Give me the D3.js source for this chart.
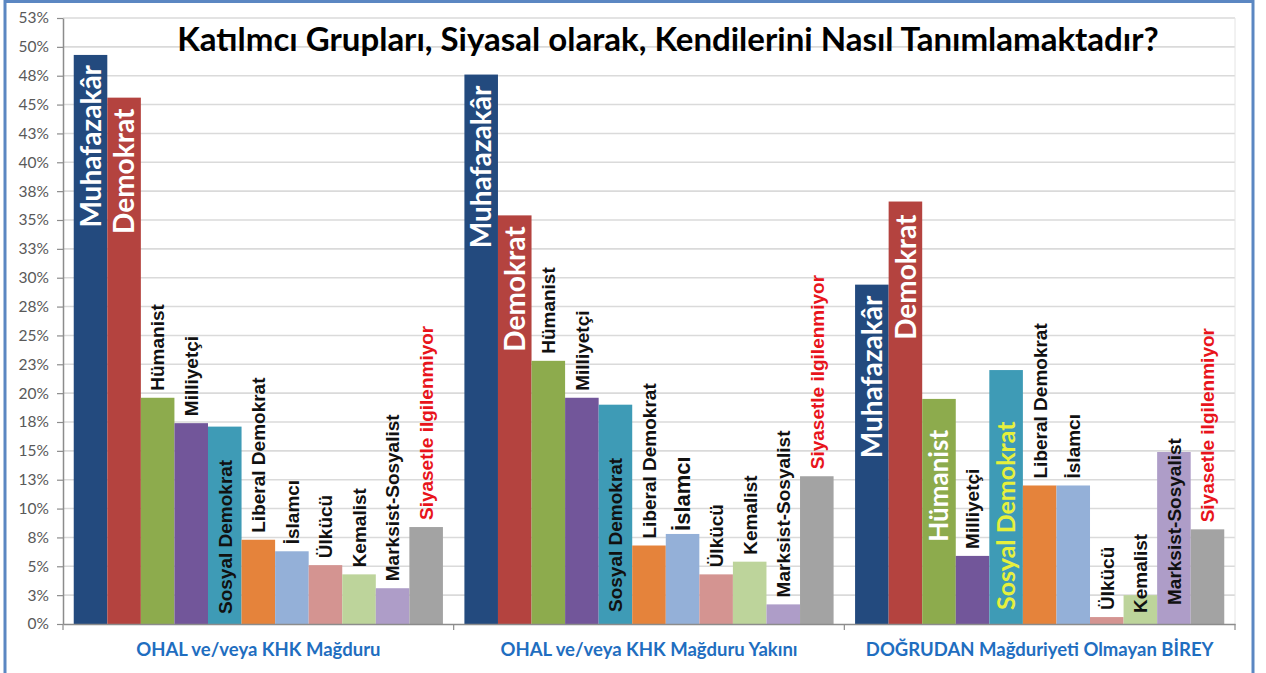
<!DOCTYPE html>
<html>
<head>
<meta charset="utf-8">
<script src="https://cdn.jsdelivr.net/npm/d3@7"></script>
<style>
  html, body { margin: 0; padding: 0; background: #ffffff; }
  svg { display: block; }
</style>
</head>
<body>
<svg id="chart" width="1266" height="673"></svg>
<script>
// ---- DATA ----
const title = "Katılmcı Grupları, Siyasal olarak, Kendilerini Nasıl Tanımlamaktadır?";
const categories = ["OHAL ve/veya KHK Mağduru", "OHAL ve/veya KHK Mağduru Yakını", "DOĞRUDAN Mağduriyeti Olmayan BİREY"];
const seriesNames = ["Muhafazakâr", "Demokrat", "Hümanist", "Milliyetçi", "Sosyal Demokrat", "Liberal Demokrat", "İslamcı", "Ülkücü", "Kemalist", "Marksist-Sosyalist", "Siyasetle ilgilenmiyor"];
const muhafazakar       = [49.3, 47.6, 29.4];
const demokrat          = [45.6, 35.4, 36.6];
const humanist          = [19.6, 22.8, 19.5];
const milliyetci        = [17.4, 19.6, 5.9];
const sosyalDemokrat    = [17.1, 19.0, 22.0];
const liberalDemokrat   = [7.3, 6.8, 12.0];
const islamci           = [6.3, 7.8, 12.0];
const ulkucu            = [5.1, 4.3, 0.6];
const kemalist          = [4.3, 5.4, 2.5];
const marksistSosyalist = [3.1, 1.7, 14.9];
const siyasetle         = [8.4, 12.8, 8.2];
const yTickValues = [0, 2.5, 5, 7.5, 10, 12.5, 15, 17.5, 20, 22.5, 25, 27.5, 30, 32.5, 35, 37.5, 40, 42.5, 45, 47.5, 50, 52.5];
const yTickLabels = ["0%", "3%", "5%", "8%", "10%", "13%", "15%", "18%", "20%", "23%", "25%", "28%", "30%", "33%", "35%", "38%", "40%", "43%", "45%", "48%", "50%", "53%"];

const seriesValues = [muhafazakar, demokrat, humanist, milliyetci, sosyalDemokrat, liberalDemokrat, islamci, ulkucu, kemalist, marksistSosyalist, siyasetle];

// ---- STYLE ----
const colors = ["#234A7E", "#B4433F", "#8DAB4D", "#72569A", "#3E9BB6", "#E5833B", "#94B0D8", "#D49491", "#BDD49B", "#AE9DC8", "#A3A3A3"];
// label placement per group: [mode, color, size, offset]
const A = (c) => ["above", c || "#111", 19, 7];
const labelStyles = [
  [["inTop","#fff",28,10],["inTop","#fff",28,11],A(),A(),["inBottom","#111",19,10],A(),A(),A(),A(),A(),A("#E8141B")],
  [["inTop","#fff",28,11],["inTop","#fff",28,11],A(),A(),["inBottom","#111",19,12],A(),["above","#111",22,3],A(),A(),A(),A("#E8141B")],
  [["inTop","#fff",28,11],["inTop","#fff",28,13],["inTop","#fff",26,31],A(),["inBottom","#E6F03C",25,14],A(),A(),A(),["inBottom","#111",19,11],["inBottom","#111",19,19],A("#E8141B")]
];

const svg = d3.select("#chart");
const W = 1266, H = 673;
const margin = {left: 63, right: 31, top: 18, bottom: 49};
const plotW = W - margin.left - margin.right;
const plotH = H - margin.top - margin.bottom;

// frame
svg.append("rect").attr("x", 5).attr("y", 1.5).attr("width", 1248).attr("height", 690)
  .attr("fill", "#fff").attr("stroke", "#5B87C2").attr("stroke-width", 3);

const g = svg.append("g").attr("transform", `translate(${margin.left},${margin.top})`);

const y = d3.scaleLinear().domain([0, 52.5]).range([plotH, 0]);
const x0 = d3.scaleBand().domain(categories).range([0, plotW]).padding(0);
const x1 = d3.scaleBand().domain(seriesNames).range([0, x0.bandwidth()]).paddingInner(0).paddingOuter(0.32);

// gridlines
g.append("g").selectAll("line").data(yTickValues.slice(1)).join("line")
  .attr("x1", 0).attr("x2", plotW)
  .attr("y1", d => y(d)).attr("y2", d => y(d))
  .attr("stroke", "#DADADA").attr("stroke-width", 1.6);
// right border of plot area
g.append("line").attr("x1", plotW).attr("x2", plotW).attr("y1", 0).attr("y2", plotH)
  .attr("stroke", "#E4E4E4").attr("stroke-width", 1);

// y axis
const yAxis = d3.axisLeft(y).tickValues(yTickValues)
  .tickFormat((d, i) => yTickLabels[i]).tickSize(6).tickSizeOuter(0);
const ya = g.append("g").call(yAxis);
ya.select(".domain").attr("stroke", "#8C8C8C").attr("stroke-width", 1.5);
ya.selectAll(".tick line").attr("stroke", "#8C8C8C").attr("stroke-width", 1.2);
ya.selectAll(".tick text").attr("fill", "#595959").attr("font-family", "Lato, sans-serif")
  .attr("font-size", 15.5).attr("x", -14);

// bars
const groups = g.append("g").selectAll("g").data(categories).join("g")
  .attr("transform", d => `translate(${x0(d)},0)`);

groups.each(function(cat, gi) {
  const gg = d3.select(this);
  const rows = seriesNames.map((s, si) => ({s, si, v: seriesValues[si][gi], st: labelStyles[gi][si]}));
  gg.selectAll("rect").data(rows).join("rect")
    .attr("x", d => x1(d.s)).attr("width", x1.bandwidth())
    .attr("y", d => y(d.v)).attr("height", d => plotH - y(d.v))
    .attr("fill", d => colors[d.si]);
  gg.selectAll("text").data(rows).join("text")
    .attr("transform", d => {
      const cx = x1(d.s) + x1.bandwidth() / 2;
      const [mode, , , off] = d.st;
      let yy;
      if (mode === "inTop") yy = y(d.v) + off;
      else if (mode === "inBottom") yy = plotH - off;
      else yy = y(d.v) - off;
      return `translate(${cx},${yy}) rotate(-90)`;
    })
    .attr("text-anchor", d => d.st[0] === "inTop" ? "end" : "start")
    .attr("dy", "0.36em")
    .attr("fill", d => d.st[1])
    .attr("font-size", d => d.st[2])
    .attr("font-weight", "bold")
    .attr("font-family", d => d.st[2] >= 24 ? "Lato, sans-serif" : "'Liberation Sans', Arial, sans-serif")
    .text(d => d.s);
});

// x axis
const xAxis = d3.axisBottom(x0).tickSize(0).tickSizeOuter(0);
const xa = g.append("g").attr("transform", `translate(0,${plotH})`).call(xAxis);
xa.select(".domain").attr("stroke", "#8C8C8C").attr("stroke-width", 1.5);
xa.selectAll(".tick text").attr("fill", "#1F6EC0").attr("font-family", "Lato, sans-serif")
  .attr("font-weight", "bold").attr("font-size", 18.5).attr("dy", 0).attr("y", 32);
// group boundary ticks
g.append("g").selectAll("line").data(categories.concat(["end"])).join("line")
  .attr("x1", (d, i) => i * x0.step()).attr("x2", (d, i) => i * x0.step())
  .attr("y1", plotH).attr("y2", plotH + 6)
  .attr("stroke", "#8C8C8C").attr("stroke-width", 1.2);

// title
svg.append("text").attr("x", 668).attr("y", 51).attr("text-anchor", "middle")
  .attr("font-family", "Lato, sans-serif").attr("font-weight", "bold").attr("font-size", 33)
  .attr("fill", "#000").text(title);
</script>
</body>
</html>
